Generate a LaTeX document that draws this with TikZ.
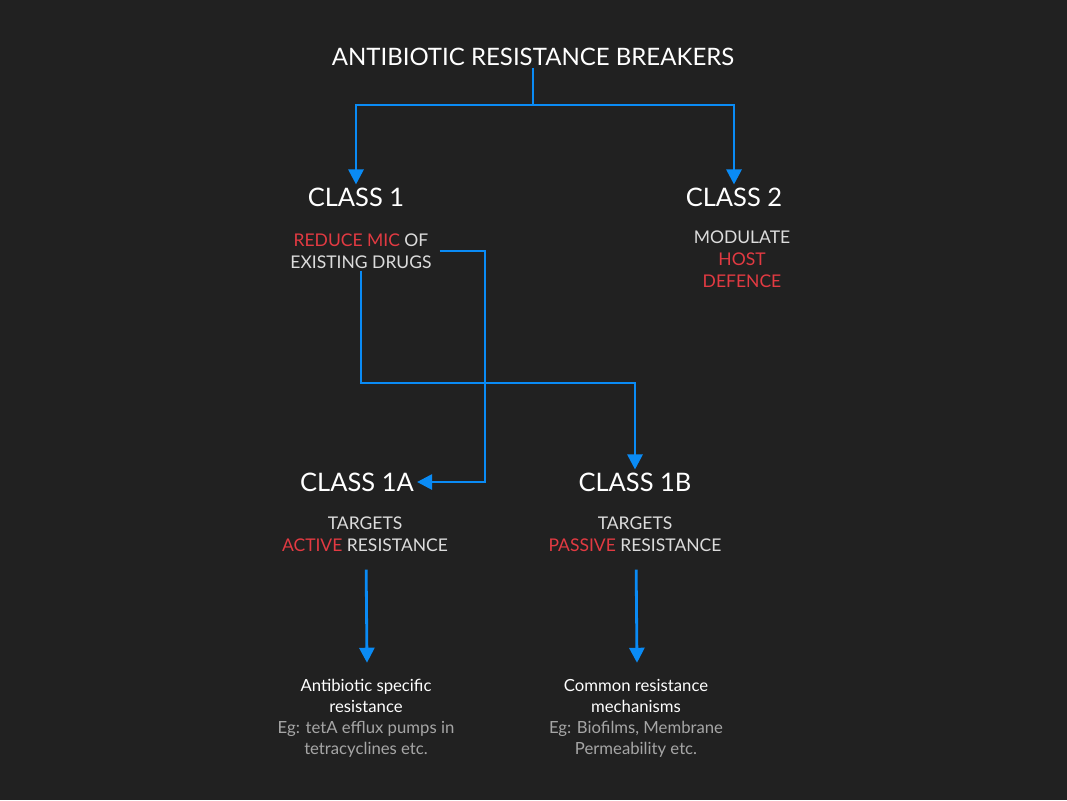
\documentclass[tikz,border=0pt]{standalone}
\usepackage{fontspec}
\setmainfont{Lato}
\usepackage{xcolor}
\usetikzlibrary{arrows.meta, positioning, calc}

\definecolor{bgdark}{HTML}{212121}
\definecolor{arrblue}{HTML}{0A8BF5}
\definecolor{hotred}{HTML}{E23A42}
\definecolor{softwhite}{HTML}{DCDCDC}
\definecolor{dimgray}{HTML}{A6A6A6}

\begin{document}
\begin{tikzpicture}[
    x=1pt, y=-1pt,
    title/.style={text=white, inner sep=2pt, font=\fontsize{24}{29}\selectfont},
    classhead/.style={text=white, inner sep=2pt, font=\fontsize{25.5}{30}\selectfont},
    sub/.style={text=softwhite, align=center, inner sep=2pt, font=\fontsize{17.5}{22}\selectfont},
    note/.style={text=white, align=center, inner sep=2pt, font=\fontsize{16.7}{21}\selectfont},
    arr/.style={-{Triangle[length=15pt, width=15pt]}, line width=2.8pt, arrblue}
]
% Background
\fill[bgdark] (0,0) rectangle (1067,800);

% Title
\node[title] (top) at (533,57) {ANTIBIOTIC RESISTANCE BREAKERS};

% Class 1 and class 2
\node[classhead] (c1) at (356,197) {CLASS 1};
\node[classhead] (c2) at (734,197) {CLASS 2};
\node[sub] (s1) at (361,251) {\textcolor{hotred}{REDUCE MIC} OF\\EXISTING DRUGS};
\node[sub] (s2) at (742,259) {MODULATE\\\textcolor{hotred}{HOST}\\\textcolor{hotred}{DEFENCE}};

% Class 1A and class 1B
\node[classhead] (c1a) at (357,482) {CLASS 1A};
\node[classhead] (c1b) at (635,482) {CLASS 1B};
\node[sub] (s1a) at (365,534) {TARGETS\\\textcolor{hotred}{ACTIVE} RESISTANCE};
\node[sub] (s1b) at (635,534) {TARGETS\\\textcolor{hotred}{PASSIVE} RESISTANCE};

% Mechanisms
\node[note] (n1a) at (366,718) {Antibiotic specific\\resistance\\\textcolor{dimgray}{Eg: tetA efflux pumps in}\\\textcolor{dimgray}{tetracyclines etc.}};
\node[note] (n1b) at (636,718) {Common resistance\\mechanisms\\\textcolor{dimgray}{Eg: Biofilms, Membrane}\\\textcolor{dimgray}{Permeability etc.}};

% Connectors
\coordinate (t0) at (533,105);
\coordinate (k1) at (485,482);
\coordinate (k2) at (635,383);
\draw[arr] (top.south) -- (t0) -| ([yshift=1pt]c1.north);
\draw[arr] (t0) -| ([yshift=1pt]c2.north);
\draw[arr] ([xshift=6pt]s1.east) -| (k1) -- ([xshift=1pt]c1a.east);
\draw[arr] (s1.south) |- (k2) -- ([yshift=1pt]c1b.north);
\draw[arr, shorten <=16pt] ([xshift=1pt]s1a.south) -- ([xshift=1pt, yshift=14pt]n1a.north);
\draw[arr, shorten <=16pt] ([xshift=1pt]s1b.south) -- ([xshift=1pt, yshift=14pt]n1b.north);

\end{tikzpicture}
\end{document}
